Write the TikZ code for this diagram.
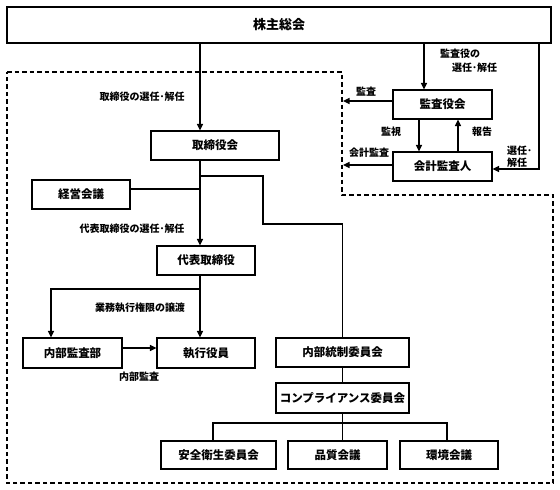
\documentclass[tikz,border=0pt]{standalone}
\usepackage{fontspec}
\setmainfont{Noto Sans CJK JP}
\usetikzlibrary{arrows.meta}
\tikzset{
  box/.style={draw, line width=1.1pt, inner sep=0pt, font=\fontsize{11.5}{13}\selectfont\bfseries},
  lbl/.style={inner sep=0pt, font=\fontsize{10}{12}\selectfont\bfseries},
  conn/.style={line width=1.1pt},
  arr/.style={line width=1.1pt, -{Triangle[length=6.5pt,width=6pt]}},
  dashbox/.style={line width=1.1pt, dash pattern=on 4.5pt off 3pt}
}
\begin{document}
\begin{tikzpicture}[x=1pt,y=-1pt]
\useasboundingbox (0,0) rectangle (560,490);
% dashed area
\draw[dashbox] (7,72) -- (342,72) -- (342,195) -- (553,195) -- (553,483) -- (7,483) -- cycle;
% boxes
\node[box, minimum width=544pt, minimum height=36pt, font=\fontsize{13}{15}\selectfont\bfseries] (soukai) at (279,25) {株主総会};
\node[box, minimum width=128pt, minimum height=29pt] (torikai) at (215,145.5) {取締役会};
\node[box, minimum width=98pt, minimum height=29pt] (keiei) at (81,194.5) {経営会議};
\node[box, minimum width=98pt, minimum height=29pt] (daihyo) at (206,260.5) {代表取締役};
\node[box, minimum width=99pt, minimum height=30pt] (naibu) at (72.5,353) {内部監査部};
\node[box, minimum width=98pt, minimum height=30pt] (shikko) at (206,353) {執行役員};
\node[box, minimum width=133pt, minimum height=29pt] (tousei) at (342.5,352.5) {内部統制委員会};
\node[box, minimum width=133pt, minimum height=30pt] (comp) at (342.5,398) {コンプライアンス委員会};
\node[box, minimum width=115pt, minimum height=28pt] (anzen) at (218.5,455) {安全衛生委員会};
\node[box, minimum width=99pt, minimum height=28pt] (hinshitsu) at (337.5,455) {品質会議};
\node[box, minimum width=98pt, minimum height=28pt] (kankyo) at (449,455) {環境会議};
\node[box, minimum width=99pt, minimum height=29pt] (kansayaku) at (442.5,104.5) {監査役会};
\node[box, minimum width=99pt, minimum height=29pt] (kaikei) at (442.5,166.5) {会計監査人};
% labels
\node[lbl] (l1) at (142,97) {取締役の選任･解任};
\node[lbl, anchor=west] (l2a) at (440,54) {監査役の};
\node[lbl, anchor=west] (l2b) at (452,68) {選任･解任};
\node[lbl] (l3) at (366,92) {監査};
\node[lbl] (l4) at (369,153) {会計監査};
\node[lbl] (l5) at (391,132) {監視};
\node[lbl] (l6) at (482,132) {報告};
\node[lbl, anchor=west, align=left] (l7) at (507,157) {選任･\\解任};
\node[lbl] (l8) at (132,229) {代表取締役の選任･解任};
\node[lbl] (l9) at (140,308) {業務執行権限の譲渡};
\node[lbl] (l10) at (139,377) {内部監査};
% helper coordinates
\coordinate (tx) at (200,0);
\coordinate (j1) at (200,189);
\coordinate (b1) at (200,176);
\coordinate (b2) at (263,224);
\coordinate (j2) at (200,289);
\coordinate (n1) at (51,289);
\coordinate (y348) at (0,348);
\coordinate (br) at (342.5,423);
\coordinate (d1) at (213,423);
\coordinate (d3) at (447,423);
\coordinate (k1) at (424,0);
\coordinate (r1) at (539,169);
\coordinate (a101) at (343,101);
\coordinate (a165) at (343,165);
\coordinate (m1) at (419,0);
\coordinate (h1) at (458,0);
% connectors
\draw[arr] (soukai.south -| tx) -- (torikai.north -| tx);
\draw[arr] (torikai.south -| tx) -- (daihyo.north -| tx);
\draw[conn] (keiei.east |- j1) -- (j1);
\draw[conn] (b1) -| (b2) -| (tousei.north);
\draw[arr] (daihyo.south -| tx) -- (shikko.north -| tx);
\draw[arr] (j2) -- (n1) -- (naibu.north -| n1);
\draw[arr] (naibu.east |- y348) -- (shikko.west |- y348);
\draw[conn] (tousei.south) -- (comp.north);
\draw[conn] (comp.south) -- (br);
\draw[conn] (anzen.north -| d1) -- (d1) -- (d3) -- (kankyo.north -| d3);
\draw[conn] (br) -- (hinshitsu.north -| br);
\draw[arr] (soukai.south -| k1) -- (kansayaku.north -| k1);
\draw[arr] (soukai.south -| r1) -- (r1) -- (kaikei.east |- r1);
\draw[arr] (kansayaku.west |- a101) -- (a101);
\draw[arr] (kaikei.west |- a165) -- (a165);
\draw[arr] (kansayaku.south -| m1) -- (kaikei.north -| m1);
\draw[arr] (kaikei.north -| h1) -- (kansayaku.south -| h1);
\end{tikzpicture}
\end{document}
